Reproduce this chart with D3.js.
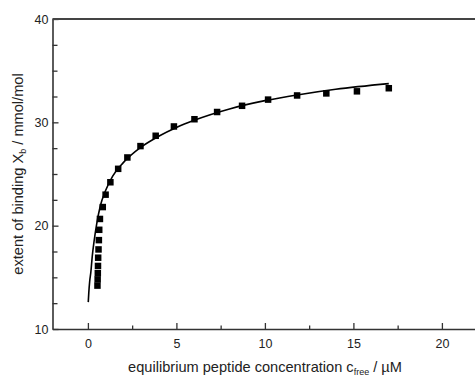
<!DOCTYPE html>
<html><head><meta charset="utf-8">
<script src="https://cdn.jsdelivr.net/npm/d3@7"></script>
<style>
body{margin:0;background:#fff}
svg{display:block}
text{font-family:"Liberation Sans",Arial,Helvetica,sans-serif;fill:#222}
</style>
</head><body><svg id="c" width="475" height="376"></svg>
<script>
// measured data (equilibrium peptide concentration, µM / extent of binding, mmol/mol)
const concData    = [0.54,0.55,0.56,0.57,0.58,0.60,0.62,0.64,0.68,0.84,1.00,1.27,1.71,2.23,2.97,3.83,4.86,6.02,7.30,8.71,10.18,11.82,13.47,15.20,17.00];
const bindingData = [14.2,14.8,15.4,16.1,16.9,17.7,18.6,19.6,20.65,21.8,23.0,24.2,25.5,26.6,27.7,28.7,29.6,30.3,31.0,31.6,32.2,32.6,32.8,33.0,33.3];
// fitted curve
const fitConc    = [0.02,0.05,0.1,0.16,0.25,0.35,0.5,0.7,1.0,1.4,2,3,4,5,6,8,10,12,14,17];
const fitBinding = [12.6,13.5,14.6,15.4,17.1,18.5,20.2,21.9,23.4,24.8,26.1,27.6,28.65,29.5,30.2,31.3,32.1,32.7,33.2,33.75];
const xMajor = [0,5,10,15,20];
const xMinor = [2.5,7.5,12.5,17.5];
const yMajor = [10,20,30,40];
const yMinor = [12.5,15,17.5,22.5,25,27.5,32.5,35,37.5];
const xTitle = "equilibrium peptide concentration c";
const xSub = "free";
const xUnit = " / µM";
const yTitle = "extent of binding X";
const ySub = "b";
const yUnit = " / mmol/mol";

const svg = d3.select("#c");
const pLeft = 52.5, pTop = 19, pBottom = 329, pRight = 477.3;
const x = d3.scaleLinear().domain([-2,22]).range([pLeft, pRight]);
const y = d3.scaleLinear().domain([10,40]).range([pBottom, pTop]);
const axisColor = "#333";

// bottom axis
const gx = svg.append("g").attr("transform",`translate(0,${pBottom})`);
gx.call(d3.axisBottom(x).tickValues(xMajor).tickSize(-6).tickSizeOuter(0).tickPadding(10));
const gx2 = svg.append("g").attr("transform",`translate(0,${pBottom})`);
gx2.call(d3.axisBottom(x).tickValues(xMinor).tickSize(-3.5).tickSizeOuter(0).tickFormat(""));
gx2.select(".domain").remove();

// left axis
const gy = svg.append("g").attr("transform",`translate(${pLeft},0)`);
gy.call(d3.axisLeft(y).tickValues(yMajor).tickSize(-6).tickSizeOuter(0).tickPadding(4));
const gy2 = svg.append("g").attr("transform",`translate(${pLeft},0)`);
gy2.call(d3.axisLeft(y).tickValues(yMinor).tickSize(-5).tickSizeOuter(0).tickFormat(""));
gy2.select(".domain").remove();

svg.selectAll(".domain").attr("stroke",axisColor).attr("stroke-width",1.6);
svg.selectAll(".tick line").attr("stroke",axisColor).attr("stroke-width",1.3);
svg.selectAll(".tick text").attr("font-size",12.5).attr("fill","#222")
   .style("font-family","'Liberation Sans',Arial,sans-serif");

// top frame line
svg.append("line").attr("x1",pLeft).attr("x2",475).attr("y1",pTop).attr("y2",pTop)
   .attr("stroke","#444").attr("stroke-width",1.8);

// fitted curve
const line = d3.line().x(d=>x(d[0])).y(d=>y(d[1])).curve(d3.curveMonotoneX);
svg.append("path").datum(fitConc.map((c,i)=>[c,fitBinding[i]]))
   .attr("d",line).attr("fill","none").attr("stroke","#000").attr("stroke-width",1.6);

// data squares
const s = 6.5;
svg.append("g").selectAll("rect").data(concData.map((c,i)=>[c,bindingData[i]])).join("rect")
   .attr("x",d=>x(d[0])-s/2).attr("y",d=>y(d[1])-s/2).attr("width",s).attr("height",s)
   .attr("fill","#000");

// x title
const xt = svg.append("text").attr("x",265).attr("y",372).attr("text-anchor","middle").attr("font-size",14.6);
xt.append("tspan").text(xTitle);
xt.append("tspan").text(xSub).attr("font-size",9).attr("dy",3);
xt.append("tspan").text(xUnit).attr("dy",-3);

// y title
const yt = svg.append("text").attr("transform",`translate(23,${(pTop+pBottom)/2}) rotate(-90)`)
   .attr("text-anchor","middle").attr("font-size",14.6);
yt.append("tspan").text(yTitle);
yt.append("tspan").text(ySub).attr("font-size",9).attr("dy",3);
yt.append("tspan").text(yUnit).attr("dy",-3);
</script>
</body></html>
